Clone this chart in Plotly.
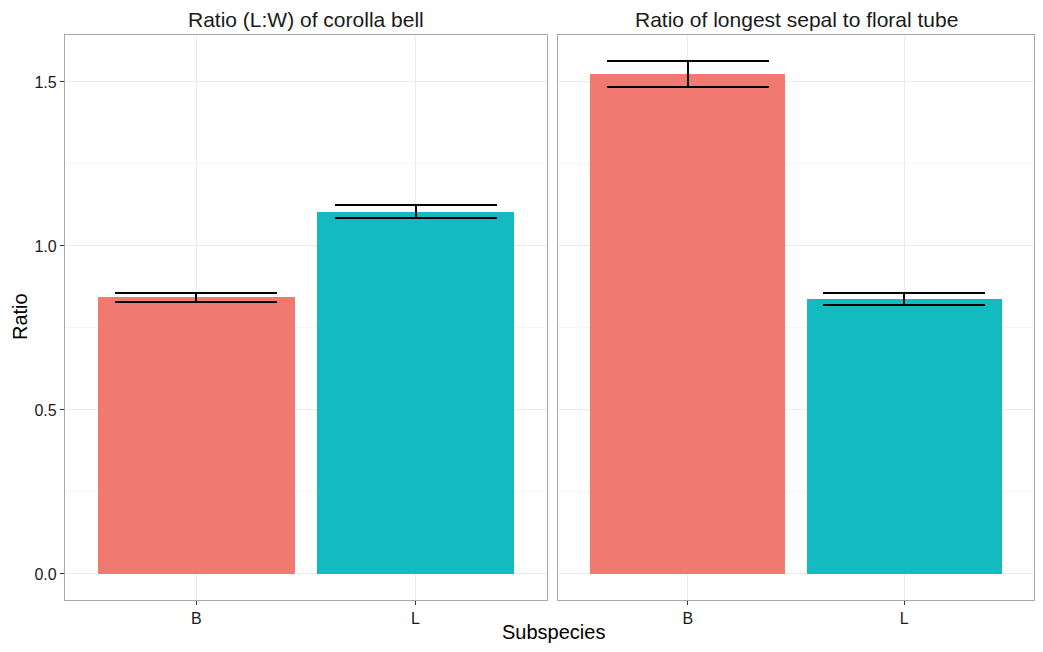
import plotly.graph_objects as go

subspecies = ["B", "L"]
panel_titles = ["Ratio (L:W) of corolla bell", "Ratio of longest sepal to floral tube"]
corolla_ratio = [0.844, 1.104]
corolla_err = [0.014, 0.020]
sepal_ratio = [1.524, 0.838]
sepal_err = [0.041, 0.018]
bar_colors = ["#F07970", "#13BAC0"]
y_ticks = [0.0, 0.5, 1.0, 1.5]
y_tick_labels = ["0.0", "0.5", "1.0", "1.5"]

# page is 1043x652 with an 8px body margin around the figure
OFF = 8
W, H = 1043 - 2 * OFF, 652 - 2 * OFF
def px_x(p): return (p - OFF) / W
def px_y(p): return 1 - (p - OFF) / H

fig = go.Figure()
series = [(corolla_ratio, corolla_err), (sepal_ratio, sepal_err)]
for i, (vals, errs) in enumerate(series):
    ax = "" if i == 0 else "2"
    fig.add_trace(go.Bar(
        x=subspecies, y=vals, width=0.9,
        marker=dict(color=bar_colors, line=dict(width=0)),
        error_y=dict(type="data", array=errs, visible=True, color="black",
                     thickness=2, width=81),
        xaxis="x" + ax, yaxis="y" + ax, showlegend=False,
    ))

font_family = "Liberation Sans, Arial, sans-serif"
common_x = dict(type="category", range=[-0.6, 1.6], showgrid=True, gridcolor="#EBEBEB",
                gridwidth=1, showline=True, linecolor="#ABA6A3", linewidth=1.3, mirror=True,
                ticks="outside", ticklen=4, tickcolor="#333333", tickwidth=1.2,
                tickfont=dict(size=16, color="#1A1A1A", family=font_family), zeroline=False)
common_y = dict(range=[-0.0793, 1.643], tickvals=y_ticks, ticktext=y_tick_labels,
                showgrid=True, gridcolor="#EBEBEB", gridwidth=1,
                minor=dict(dtick=0.25, showgrid=True, gridcolor="#F5F5F5", gridwidth=1, tick0=0),
                showline=True, linecolor="#ABA6A3", linewidth=1.3, mirror=True,
                ticks="outside", ticklen=4, tickcolor="#333333", tickwidth=1.2,
                tickfont=dict(size=16, color="#1A1A1A", family=font_family), zeroline=False)

domain_y = [px_y(600), px_y(35)]
fig.update_layout(
    width=W, height=H, margin=dict(l=0, r=0, t=0, b=0),
    paper_bgcolor="white", plot_bgcolor="white", bargap=0,
    font=dict(family=font_family, color="#1A1A1A"),
    xaxis=dict(common_x, domain=[px_x(65), px_x(547)], anchor="y"),
    yaxis=dict(common_y, domain=domain_y, anchor="x"),
    xaxis2=dict(common_x, domain=[px_x(558), px_x(1034)], anchor="y2"),
    yaxis2=dict(common_y, domain=domain_y, anchor="x2", showticklabels=False, ticks=""),
)

annotations = [
    dict(text=panel_titles[0], x=px_x(306), y=px_y(19), xref="paper", yref="paper",
         xanchor="center", yanchor="middle",
         showarrow=False, font=dict(size=21, color="#1A1A1A")),
    dict(text=panel_titles[1], x=px_x(796), y=px_y(19), xref="paper", yref="paper",
         xanchor="center", yanchor="middle",
         showarrow=False, font=dict(size=21, color="#1A1A1A")),
    dict(text="Subspecies", x=px_x(553), y=px_y(632), xref="paper", yref="paper",
         xanchor="center", yanchor="middle",
         showarrow=False, font=dict(size=20, color="#000000")),
    dict(text="Ratio", x=px_x(20), y=px_y(317), xref="paper", yref="paper",
         xanchor="center", yanchor="middle",
         showarrow=False, textangle=-90, font=dict(size=20, color="#000000")),
]
fig.update_layout(annotations=annotations)

fig.write_html("out.html")
